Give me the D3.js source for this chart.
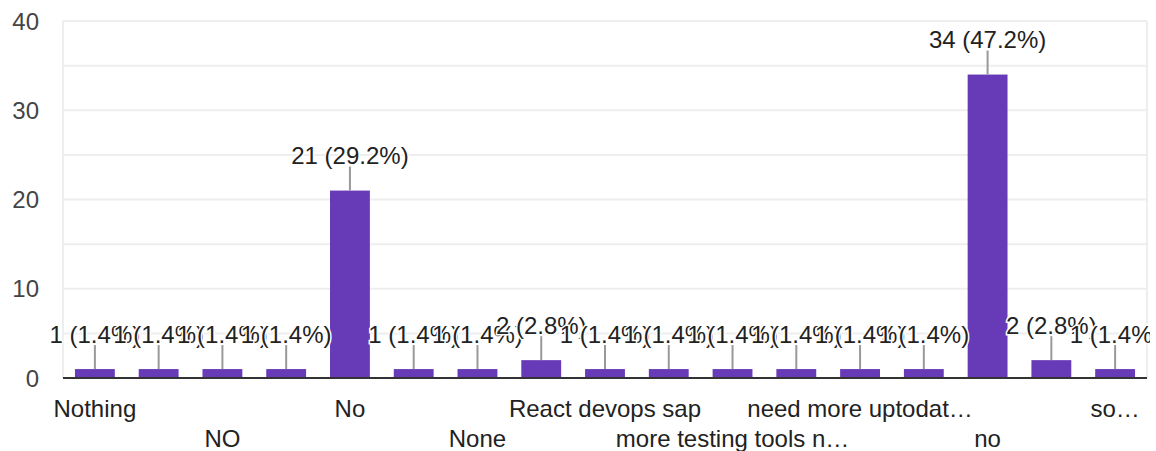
<!DOCTYPE html>
<html>
<head>
<meta charset="utf-8">
<script src="https://cdn.jsdelivr.net/npm/d3@7"></script>
<style>
  html, body { margin: 0; padding: 0; background: #fff; }
  svg { display: block; }
  text { font-family: "Liberation Sans", Arial, sans-serif; }
</style>
</head>
<body>
<svg id="chart" width="1156" height="451"></svg>
<script>
// Category labels (only every other one is visible in the reference; hidden ones unknown)
const categories = [
  "Nothing", "", "NO", "", "No", "", "None", "", "React devops sap", "",
  "more testing tools n\u2026", "", "need more uptodat\u2026", "", "no", "", "so\u2026"
];
const values = [1, 1, 1, 1, 21, 1, 1, 2, 1, 1, 1, 1, 1, 1, 34, 2, 1];
const yTicks = [0, 10, 20, 30, 40];
const gridTicks = [5, 10, 15, 20, 25, 30, 35, 40];
const total = 72;

const svg = d3.select("#chart");
const plotL = 63, plotR = 1147, plotT = 21, plotB = 378;

svg.append("defs").append("clipPath").attr("id", "labclip")
  .append("rect").attr("x", 0).attr("y", 0).attr("width", 1150).attr("height", 451);

const x = d3.scaleBand()
  .domain(d3.range(values.length))
  .range([plotL, plotR])
  .paddingInner(0.375)
  .paddingOuter(0.1875);
const y = d3.scaleLinear().domain([0, 40]).range([plotB, plotT]);

// gridlines
svg.append("g").selectAll("line").data(gridTicks).join("line")
  .attr("x1", plotL).attr("x2", plotR)
  .attr("y1", d => y(d)).attr("y2", d => y(d))
  .attr("stroke", "#eeeeee").attr("stroke-width", 2);
// vertical borders
svg.append("line").attr("x1", plotL).attr("x2", plotL).attr("y1", plotT).attr("y2", plotB)
  .attr("stroke", "#eeeeee").attr("stroke-width", 2);
svg.append("line").attr("x1", plotR).attr("x2", plotR).attr("y1", plotT).attr("y2", plotB)
  .attr("stroke", "#eeeeee").attr("stroke-width", 2);

// y axis labels
svg.append("g").selectAll("text").data(yTicks).join("text")
  .attr("x", 39).attr("y", d => y(d))
  .attr("dy", "0.36em")
  .attr("text-anchor", "end")
  .attr("font-size", 24)
  .attr("fill", "#444")
  .text(d => d);

// bars
svg.append("g").selectAll("rect").data(values).join("rect")
  .attr("x", (d, i) => x(i))
  .attr("width", x.bandwidth())
  .attr("y", d => y(d))
  .attr("height", d => y(0) - y(d))
  .attr("fill", "#673ab7");

// baseline
svg.append("line").attr("x1", plotL).attr("x2", plotR).attr("y1", y(0)).attr("y2", y(0))
  .attr("stroke", "#333").attr("stroke-width", 2);

// value labels with leader lines
const lab = svg.append("g").attr("clip-path", "url(#labclip)");
values.forEach((v, i) => {
  const cx = x(i) + x.bandwidth() / 2;
  const yt = y(v);
  lab.append("line")
    .attr("x1", cx).attr("x2", cx)
    .attr("y1", yt - 24).attr("y2", yt)
    .attr("stroke", "#999").attr("stroke-width", 2);
});
values.forEach((v, i) => {
  const cx = x(i) + x.bandwidth() / 2;
  const yt = y(v);
  const pct = (v / total * 100).toFixed(1);
  lab.append("text")
    .attr("x", cx).attr("y", yt - 35)
    .attr("dy", "0.36em")
    .attr("text-anchor", "middle")
    .attr("font-size", 24)
    .attr("fill", "#222")
    .attr("stroke", "#fff").attr("stroke-width", 3)
    .attr("paint-order", "stroke")
    .text(`${v} (${pct}%)`);
});

// x axis labels (alternating rows, every other shown)
svg.append("g").selectAll("text")
  .data(categories.map((c, i) => ({c, i})).filter(d => d.i % 2 === 0 && d.c !== ""))
  .join("text")
  .attr("x", d => x(d.i) + x.bandwidth() / 2)
  .attr("y", d => (d.i % 4 === 0) ? 408 : 438)
  .attr("dy", "0.36em")
  .attr("text-anchor", "middle")
  .attr("font-size", 24)
  .attr("fill", "#222")
  .text(d => d.c);
</script>
</body>
</html>
